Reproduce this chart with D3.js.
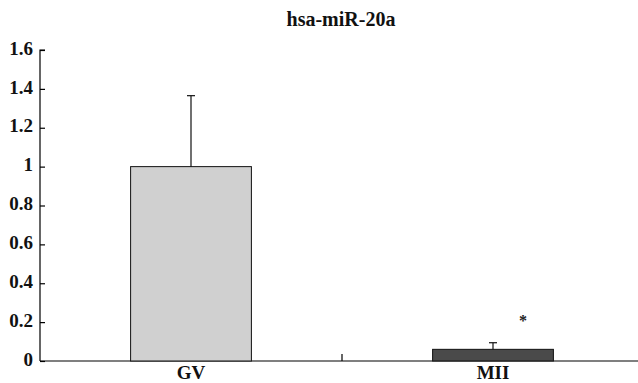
<!DOCTYPE html>
<html>
<head>
<meta charset="utf-8">
<script src="https://cdn.jsdelivr.net/npm/d3@7"></script>
<style>
  body { margin: 0; background: #fff; }
  svg { display: block; }
</style>
</head>
<body>
<svg id="chart"></svg>
<script>
const width = 638;
const height = 383;
const margin = { top: 50, right: -6, bottom: 22, left: 40 };
const serif = "'Liberation Serif', 'Times New Roman', serif";

const title = 'hsa-miR-20a';
const categories = ['GV', 'MII'];
const values = [1.0, 0.06];
const errors = [0.365, 0.034];
const fills = ['#d0d0d0', '#4a4a4a'];
const stars = ['', '*'];
const starLevel = 0.22;
const yTicks = [0, 0.2, 0.4, 0.6, 0.8, 1, 1.2, 1.4, 1.6];

const svg = d3.select('#chart').attr('width', width).attr('height', height);

const x = d3.scaleBand(categories, [margin.left, width - margin.right]).paddingInner(0.6).paddingOuter(0.3);
const xOuter = d3.scaleBand(categories, [margin.left, width - margin.right]);
const y = d3.scaleLinear([0, 1.6], [height - margin.bottom, margin.top]);

// title
svg.append('text')
  .attr('x', 341)
  .attr('y', 26)
  .attr('text-anchor', 'middle')
  .style('font-family', serif)
  .attr('font-weight', 'bold')
  .attr('font-size', 20)
  .attr('fill', '#111')
  .text(title);

// y axis, ticks point inward
svg.append('g')
  .attr('transform', `translate(${margin.left},0)`)
  .call(d3.axisRight(y).tickValues(yTicks).tickSize(5).tickFormat(d3.format('~g')))
  .call((g) => g.select('.domain').attr('d', `M5,${y(1.6)}H0V${y(0)}`).attr('stroke-width', 1.2))
  .call((g) => g.selectAll('.tick line').attr('stroke-width', 1.2))
  .call((g) =>
    g.selectAll('.tick text')
      .attr('x', -7)
      .attr('dy', '0.22em')
      .attr('text-anchor', 'end')
      .style('font-family', serif)
      .attr('font-weight', 'bold')
      .attr('font-size', 19)
      .attr('fill', '#111')
  );

// x axis
const xAxisG = svg.append('g').attr('transform', `translate(0,${y(0)})`);
xAxisG.append('line')
  .attr('x1', margin.left)
  .attr('x2', width - margin.right)
  .attr('stroke', '#000')
  .attr('stroke-width', 1.2);
// separator tick between categories
xAxisG.append('line')
  .attr('x1', xOuter(categories[1]))
  .attr('x2', xOuter(categories[1]))
  .attr('y1', 0)
  .attr('y2', -7)
  .attr('stroke', '#000')
  .attr('stroke-width', 1.2);
xAxisG.selectAll('text.cat')
  .data(categories)
  .join('text')
  .attr('class', 'cat')
  .attr('x', (d) => x(d) + x.bandwidth() / 2)
  .attr('y', 17.5)
  .attr('text-anchor', 'middle')
  .style('font-family', serif)
  .attr('font-weight', 'bold')
  .attr('font-size', 19)
  .attr('fill', '#111')
  .text((d) => d);

// bars
svg.append('g')
  .selectAll('rect')
  .data(categories)
  .join('rect')
  .attr('x', (d) => x(d))
  .attr('y', (d, i) => y(values[i]))
  .attr('width', x.bandwidth())
  .attr('height', (d, i) => y(0) - y(values[i]))
  .attr('fill', (d, i) => fills[i])
  .attr('stroke', '#111')
  .attr('stroke-width', 1);

// error bars (upper only)
const eb = svg.append('g').attr('stroke', '#111').attr('stroke-width', 1.2);
categories.forEach((c, i) => {
  const cx = x(c) + x.bandwidth() / 2;
  eb.append('line')
    .attr('x1', cx).attr('x2', cx)
    .attr('y1', y(values[i])).attr('y2', y(values[i] + errors[i]));
  eb.append('line')
    .attr('x1', cx - 4).attr('x2', cx + 4)
    .attr('y1', y(values[i] + errors[i])).attr('y2', y(values[i] + errors[i]));
});

// significance marks
svg.append('g')
  .selectAll('text')
  .data(categories)
  .join('text')
  .attr('x', (d) => x(d) + x.bandwidth() / 2 + 30)
  .attr('y', y(starLevel) + 8)
  .attr('text-anchor', 'middle')
  .style('font-family', serif)
  .attr('font-size', 16)
  .attr('font-weight', 'bold')
  .attr('fill', '#222')
  .text((d, i) => stars[i]);
</script>
</body>
</html>
